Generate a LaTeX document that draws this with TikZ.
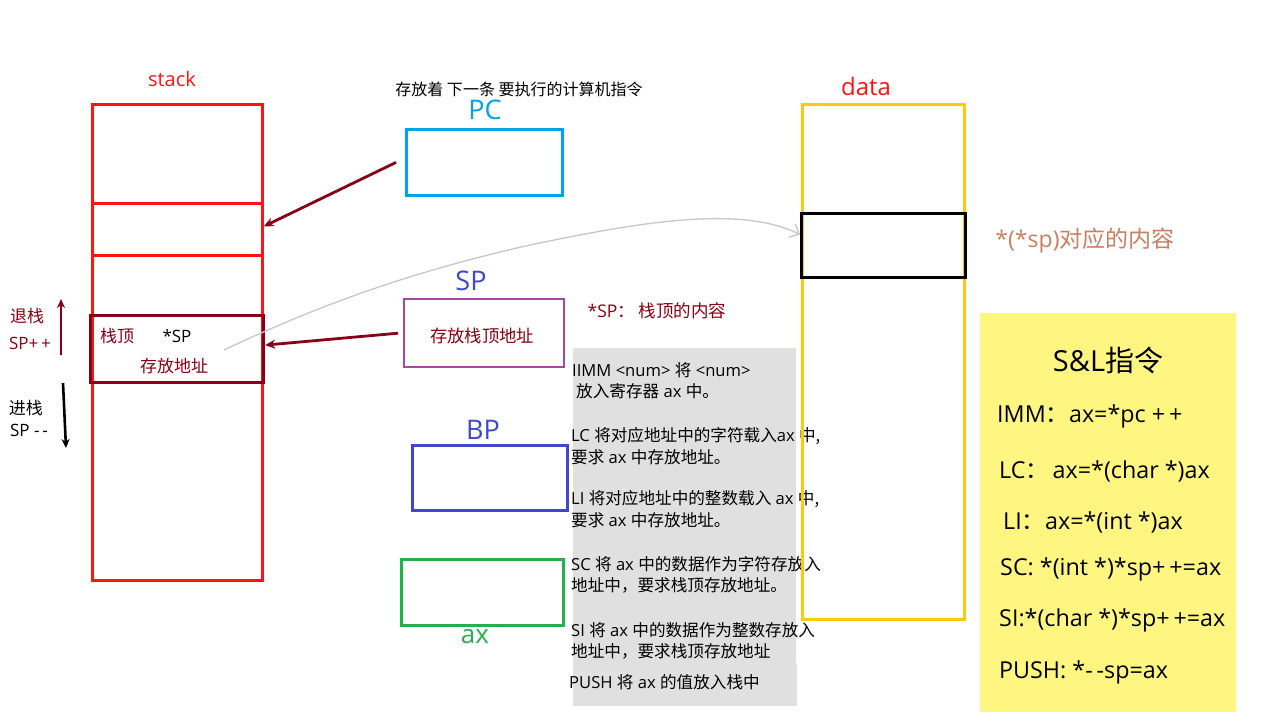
\documentclass[tikz,border=0pt]{standalone}
\usepackage{fontspec}
\setmainfont{Open Sans}
\newfontfamily\zh{Noto Sans CJK SC}
\usetikzlibrary{arrows.meta}
\definecolor{stackred}{RGB}{255,20,20}
\definecolor{darkred}{RGB}{136,0,21}
\definecolor{pcblue}{RGB}{0,162,232}
\definecolor{regblue}{RGB}{63,72,204}
\definecolor{spviolet}{RGB}{163,73,164}
\definecolor{axgreen}{RGB}{34,177,76}
\definecolor{datayellow}{RGB}{255,201,14}
\definecolor{notegray}{RGB}{224,224,224}
\definecolor{paleyellow}{RGB}{255,246,130}
\definecolor{tan}{RGB}{200,128,96}
\newcommand{\fs}[1]{\fontsize{#1}{#1}\selectfont}
\newcommand{\z}[1]{{\zh #1}}
\tikzset{
  box/.style={draw, anchor=north west, inner sep=0pt},
  lbl/.style={inner sep=0pt, anchor=center},
  ltext/.style={inner sep=0pt, anchor=west},
  regarrow/.style={darkred, line width=2.8pt, -{Stealth[length=10pt,width=9pt]}},
}
\begin{document}
\begin{tikzpicture}[x=1pt,y=-1pt]
\useasboundingbox (0,0) rectangle (1265,717);
\fill[white] (0,0) rectangle (1265,717);

% ---- stack ----
\node[lbl, text=stackred] (stacklbl) at (172,79) {\fs{20}stack};
\node[box, stackred, line width=2.8pt, minimum width=170pt, minimum height=476pt] (stack) at (91,103) {};
\node[box, stackred, line width=2.8pt, minimum width=170pt, minimum height=52pt] (slot) at (91,202) {};
\node[box, darkred, line width=3.2pt, minimum width=173pt, minimum height=67pt] (top) at (89,314) {};
\node[lbl, text=darkred] (toplbl) at (117,336) {\fs{17}\z{栈顶}};
\node[lbl] (topsp) at (177,336) {\fs{17}*SP};
\node[lbl, text=darkred] (topaddr) at (174,366) {\fs{17}\z{存放地址}};

% push / pop direction
\coordinate (upA) at (61,355);
\coordinate (upB) at (61,299);
\draw[darkred, line width=2.6pt, -{Stealth[length=9pt,width=8pt]}] (upA) -- (upB);
\node[lbl, text=darkred] (pop1) at (27,316) {\fs{17}\z{退栈}};
\node[lbl, text=darkred] (pop2) at (30,343) {\fs{17}SP+\,+};
\coordinate (dnA) at (63,383);
\coordinate (dnB) at (66,448);
\draw[black, line width=2.6pt, -{Stealth[length=9pt,width=8pt]}] (dnA) -- (dnB);
\node[lbl] (push1) at (26,408) {\fs{17}\z{进栈}};
\node[lbl] (push2) at (29,430) {\fs{17}SP -\,-};

% ---- PC ----
\node[lbl] (pcnote) at (519,89) {\fs{16}\z{存放着 下一条 要执行的计算机指令}};
\node[lbl, text=pcblue] (pclbl) at (485,110) {\fs{27}PC};
\node[box, pcblue, line width=2.8pt, minimum width=156pt, minimum height=66pt] (pc) at (405,128) {};
\draw[regarrow] ([xshift=-9pt]pc.west) -- ([yshift=3pt]slot.east);

% ---- SP ----
\node[lbl, text=regblue] (splbl) at (471,281) {\fs{27}SP};
\node[box, spviolet, line width=2.4pt, minimum width=160pt, minimum height=68pt] (sp) at (403,298) {};
\node[lbl, text=darkred] (sptext) at (482,336) {\fs{17.3}\z{存放栈顶地址}};
\node[lbl, text=darkred] (spnote) at (657,311) {\fs{17.5}*SP\z{： 栈顶的内容}};
\draw[regarrow] ([xshift=-5pt]sp.west) -- ([yshift=4pt]top.east);

% ---- BP ----
\node[lbl, text=regblue] (bplbl) at (483,430) {\fs{27}BP};
\node[box, regblue, line width=2.8pt, minimum width=155pt, minimum height=65pt] (bp) at (411,444) {};

% ---- ax ----
\node[box, axgreen, line width=2.8pt, minimum width=162pt, minimum height=66pt] (ax) at (400,558) {};
\node[lbl, text=axgreen] (axlbl) at (475,637) {\fs{26}ax};

% ---- instruction notes ----
\fill[notegray] (573,348) rectangle (796,663);
\fill[notegray] (573,663) rectangle (797,706);
\begin{scope}[every node/.append style={font=\fs{16.6}}]
\node[ltext] (g1) at (572,370) {IIMM <num> \z{将} <num>};
\node[ltext] (g2) at (576,391) {\z{放入寄存器} ax \z{中。}};
\node[ltext] (g3) at (571,436) {LC \z{将对应地址中的字符载入}ax \z{中,}};
\node[ltext] (g4) at (571,457) {\z{要求} ax \z{中存放地址。}};
\node[ltext] (g5) at (571,499) {LI \z{将对应地址中的整数载入} ax \z{中,}};
\node[ltext] (g6) at (571,520) {\z{要求} ax \z{中存放地址。}};
\node[ltext] (g7) at (571,564) {SC \z{将} ax \z{中的数据作为字符存放入}};
\node[ltext] (g8) at (571,585) {\z{地址中，要求栈顶存放地址。}};
\node[ltext] (g9) at (571,630) {SI \z{将} ax \z{中的数据作为整数存放入}};
\node[ltext] (g10) at (571,651) {\z{地址中，要求栈顶存放地址}};
\node[ltext] (g11) at (569,682) {PUSH \z{将} ax \z{的值放入栈中}};
\end{scope}

% ---- data ----
\node[lbl, text=stackred] (datalbl) at (866,86) {\fs{24}data};
\node[box, datayellow, line width=2.8pt, minimum width=162pt, minimum height=515pt] (data) at (801,103) {};
\node[box, black, line width=3pt, minimum width=164pt, minimum height=64pt] (cell) at (800,212) {};
\node[lbl, text=tan] (cellnote) at (1085,241) {\fs{23}*(*sp)\z{对应的内容}};

% pointer from the stack top to the data cell
\coordinate (ptr) at (224,350);
\draw[black!22, line width=1.3pt, -{Straight Barb[length=8pt,width=15pt]}]
  (ptr) .. controls (330,300) and (420,270) .. (530,245)
        .. controls (640,222) and (740,205) .. ([yshift=11pt]cell.west);

% ---- S&L summary ----
\fill[paleyellow] (980,313) rectangle (1236,712);
\node[lbl] (sl) at (1108,360) {\fs{29}S\&L\z{指令}};
\begin{scope}[every node/.append style={font=\fs{23.3}}]
\node[ltext] (sl1) at (997,416) {IMM\z{：}ax=*pc +\,+};
\node[ltext] (sl2) at (999,471) {LC\z{：}\,ax=*(char *)ax};
\node[ltext] (sl3) at (1003,522) {LI\z{：}ax=*(int *)ax};
\node[ltext] (sl4) at (1000,569) {SC: *(int *)*sp+\,+=ax};
\node[ltext] (sl5) at (999,620) {SI:*(char *)*sp+\,+=ax};
\node[ltext] (sl6) at (999,672) {PUSH: *-\,-sp=ax};
\end{scope}
\end{tikzpicture}
\end{document}
